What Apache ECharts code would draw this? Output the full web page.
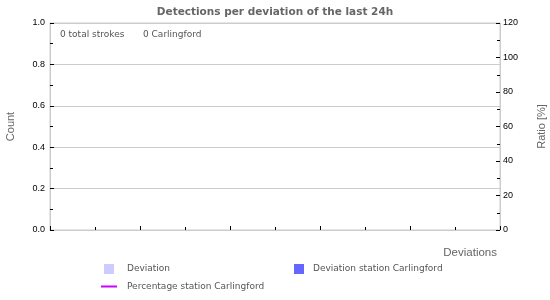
<!DOCTYPE html>
<html>
<head>
<meta charset="utf-8">
<script src="https://cdn.jsdelivr.net/npm/echarts@6/dist/echarts.min.js"></script>
<style>
  html, body { margin: 0; padding: 0; background: #fff; }
  #chart { width: 550px; height: 300px; }
</style>
</head>
<body>
<div id="chart"></div>
<script>
// deviation bins (no strokes in the last 24h, so everything is zero)
const deviationBins = [0, 1, 2, 3, 4, 5, 6, 7, 8, 9]
const deviationCounts = [0, 0, 0, 0, 0, 0, 0, 0, 0, 0]
const stationCounts = [0, 0, 0, 0, 0, 0, 0, 0, 0, 0]
const stationPercent = ['-', '-', '-', '-', '-', '-', '-', '-', '-', '-']
const countTicks = [0, 0.2, 0.4, 0.6, 0.8, 1.0]
const ratioTicks = [0, 20, 40, 60, 80, 100, 120]
const totalStrokes = 0
const stationName = 'Carlingford'
const stationStrokes = 0

const chart = echarts.init(document.getElementById('chart'))

const gray = '#ccc'
const textGray = '#555'

// 柱子放在每个区间中间
const toPoints = (vals) => vals.map((v, i) => [deviationBins[i] + 0.5, v])

const option = {
  animation: false,
  title: {
    text: 'Detections per deviation of the last 24h',
    left: 'center',
    top: 2,
    textStyle: { fontFamily: 'DejaVu Sans', fontSize: 10.5, fontWeight: 'bold', color: '#666' }
  },
  graphic: [
    {
      type: 'text', left: 60, top: 30,
      style: { text: totalStrokes + ' total strokes', font: '9px "DejaVu Sans"', fill: textGray }
    },
    {
      type: 'text', left: 143, top: 30,
      style: { text: stationStrokes + ' ' + stationName, font: '9px "DejaVu Sans"', fill: textGray }
    }
  ],
  legend: [
    {
      left: 104, top: 264, padding: 0, itemWidth: 10, itemHeight: 10, icon: 'rect',
      data: ['Deviation'],
      textStyle: { fontFamily: 'DejaVu Sans', fontSize: 9, color: textGray, padding: [0, 0, 0, 8] }
    },
    {
      left: 294, top: 264, padding: 0, itemWidth: 10, itemHeight: 10, icon: 'rect',
      data: ['Deviation station ' + stationName],
      textStyle: { fontFamily: 'DejaVu Sans', fontSize: 9, color: textGray, padding: [0, 0, 0, 4] }
    },
    {
      left: 101, top: 282, padding: 0, itemWidth: 16, itemHeight: 2, icon: 'rect',
      data: ['Percentage station ' + stationName],
      textStyle: { fontFamily: 'DejaVu Sans', fontSize: 9, color: textGray, padding: [0, 0, 0, 5] }
    }
  ],
  grid: {
    left: 50, right: 50, top: 23, bottom: 70,
    outerBoundsMode: 'none',
    containLabel: false,
    show: true, borderColor: gray, borderWidth: 1
  },
  xAxis: {
    type: 'value',
    min: 0,
    max: deviationBins.length,
    interval: 2,
    name: 'Deviations',
    nameLocation: 'end',
    nameGap: 0,
    nameTextStyle: {
      fontFamily: 'Liberation Sans', fontSize: 11.5, color: '#666',
      align: 'right', verticalAlign: 'top', padding: [17, 3, 0, 0]
    },
    axisLine: { lineStyle: { color: gray } },
    axisTick: { inside: true, length: 4, lineStyle: { color: '#000' } },
    minorTick: { show: true, splitNumber: 2, length: 3, lineStyle: { color: '#000' } },
    axisLabel: { show: false },
    splitLine: { show: false }
  },
  yAxis: [
    {
      type: 'value',
      min: countTicks[0],
      max: countTicks[countTicks.length - 1],
      interval: 0.2,
      name: 'Count',
      nameLocation: 'middle',
      nameGap: 34,
      nameTextStyle: { fontFamily: 'Liberation Sans', fontSize: 11, color: '#666' },
      axisLine: { show: true, lineStyle: { color: gray } },
      axisTick: { show: true, inside: true, length: 4, lineStyle: { color: '#000' } },
      minorTick: { show: true, splitNumber: 2, length: 3, lineStyle: { color: '#000' } },
      axisLabel: {
        fontFamily: 'Liberation Sans', fontSize: 9, color: '#000', margin: 5,
        formatter: (v) => v.toFixed(1)
      },
      splitLine: { lineStyle: { color: gray } }
    },
    {
      type: 'value',
      min: ratioTicks[0],
      max: ratioTicks[ratioTicks.length - 1],
      interval: 20,
      name: 'Ratio [%]',
      nameLocation: 'middle',
      nameGap: 36,
      nameTextStyle: { fontFamily: 'Liberation Sans', fontSize: 11, color: '#666' },
      axisLine: { show: true, lineStyle: { color: gray } },
      axisTick: { show: true, inside: true, length: 4, lineStyle: { color: '#000' } },
      minorTick: { show: true, splitNumber: 2, length: 3, lineStyle: { color: '#000' } },
      axisLabel: { fontFamily: 'Liberation Sans', fontSize: 9, color: '#000', margin: 3 },
      splitLine: { show: false }
    }
  ],
  series: [
    {
      name: 'Deviation',
      type: 'bar',
      barGap: '-100%',
      barWidth: 30,
      itemStyle: { color: '#ccccff' },
      data: toPoints(deviationCounts)
    },
    {
      name: 'Deviation station ' + stationName,
      type: 'bar',
      barWidth: 30,
      itemStyle: { color: '#6666ff' },
      data: toPoints(stationCounts)
    },
    {
      name: 'Percentage station ' + stationName,
      type: 'line',
      yAxisIndex: 1,
      showSymbol: false,
      itemStyle: { color: '#cc00ff' },
      lineStyle: { color: '#cc00ff', width: 2 },
      data: toPoints(stationPercent)
    }
  ]
}

chart.setOption(option)
</script>
</body>
</html>
